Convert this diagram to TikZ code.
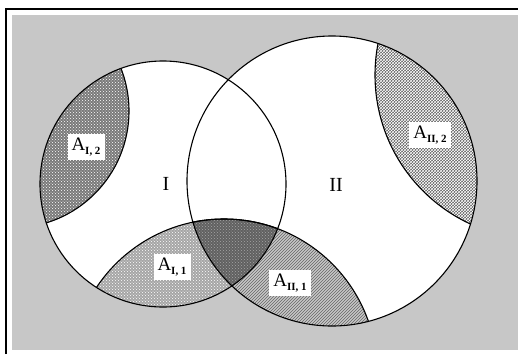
\documentclass[tikz,border=0pt]{standalone}
\usepackage{fontspec}
\setmainfont{Liberation Serif}
\usetikzlibrary{patterns}
\newcommand{\labA}[1]{A\raisebox{-0.4ex}{\fontsize{11}{11}\selectfont\bfseries #1}}
\begin{document}
\begin{tikzpicture}[x=1pt,y=-1pt,
  lbl/.style={fill=white, inner xsep=4pt, inner ysep=4pt, font=\fontsize{19}{19}\selectfont},
  roman/.style={font=\fontsize{20}{20}\selectfont},
  outline/.style={line width=1.1pt, draw=black}]
\useasboundingbox (0,0) rectangle (518,354);
\fill[white] (0,0) rectangle (518,354);
\fill[black!22] (12,15) rectangle (518,350);
\draw[line width=1.4pt] (6,354) -- (6,9) -- (518,9);
% coordinates of centres
\coordinate (cI) at (163,184);
\coordinate (cII) at (332,181);
\coordinate (cIII) at (224,372);
\coordinate (cIV) at (12,111);
\coordinate (cV) at (539,75);
% white circles
\fill[white] (cI) circle[radius=123];
\fill[white] (cII) circle[radius=145];
% A_I,2
\begin{scope}
  \clip (cI) circle[radius=123];
  \fill[black!52] (cIV) circle[radius=117];
  \fill[pattern=crosshatch dots, pattern color=white] (cIV) circle[radius=117];
\end{scope}
% A_II,2
\begin{scope}
  \clip (cII) circle[radius=145];
  \fill[black!62] (cV) circle[radius=164];
  \fill[pattern=crosshatch, pattern color=white] (cV) circle[radius=164];
\end{scope}
% A_I,1
\begin{scope}
  \clip (cI) circle[radius=123];
  \fill[black!35] (cIII) circle[radius=153];
  \fill[pattern=crosshatch dots, pattern color=white] (cIII) circle[radius=153];
\end{scope}
% A_II,1
\begin{scope}
  \clip (cII) circle[radius=145];
  \fill[black!22] (cIII) circle[radius=153];
  \fill[pattern=north east lines, pattern color=black!60] (cIII) circle[radius=153];
\end{scope}
% overlap
\begin{scope}
  \clip (cI) circle[radius=123];
  \clip (cII) circle[radius=145];
  \fill[black!62] (cIII) circle[radius=153];
  \fill[pattern=crosshatch dots, pattern color=black!35] (cIII) circle[radius=153];
\end{scope}
% inner arcs
\begin{scope}
  \clip (cI) circle[radius=123];
  \draw[outline] (cIV) circle[radius=117];
  \draw[outline] (cIII) circle[radius=153];
\end{scope}
\begin{scope}
  \clip (cII) circle[radius=145];
  \draw[outline] (cV) circle[radius=164];
  \draw[outline] (cIII) circle[radius=153];
\end{scope}
% outlines
\draw[outline] (cI) circle[radius=123];
\draw[outline] (cII) circle[radius=145];
% labels
\node[lbl] (aI2) at (86,147) {\labA{I, 2}};
\node[lbl] (aI1) at (172,267) {\labA{I, 1}};
\node[lbl] (aII1) at (290,283) {\labA{II, 1}};
\node[lbl] (aII2) at (430,135) {\labA{II, 2}};
\node[roman] (setI) at (166,184) {I};
\node[roman] (setII) at (336,185) {II};
\end{tikzpicture}
\end{document}
